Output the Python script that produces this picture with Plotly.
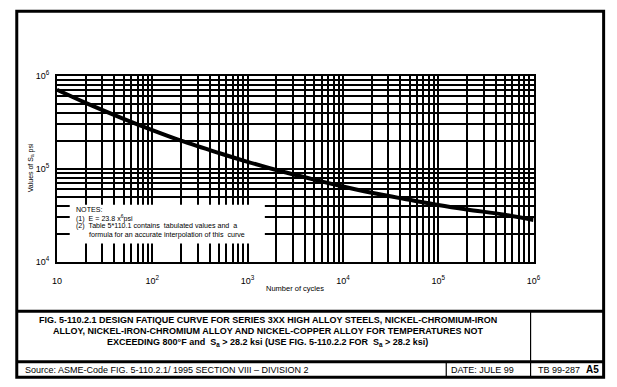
import plotly.graph_objects as go

# ---- data ----
cycles = [10, 20, 50, 100, 200, 500, 1000, 2000, 5000, 10000, 20000,
          50000, 100000, 200000, 500000, 1000000]
stress_psi = [708000, 512000, 345000, 261000, 201000, 148000, 119000, 97000,
              76500, 64600, 55200, 46400, 40900, 36600, 32100, 28200]

x_tickvals = [10, 100, 1000, 10000, 100000, 1000000]
x_ticktext = ["10", "10<sup>2</sup>", "10<sup>3</sup>", "10<sup>4</sup>",
              "10<sup>5</sup>", "10<sup>6</sup>"]
y_tickvals = [10000, 100000, 1000000]
y_ticktext = ["10<sup>4</sup>", "10<sup>5</sup>", "10<sup>6</sup>"]

x_minor = [m * 10 ** e for e in range(1, 6) for m in range(2, 10)]
y_minor = [m * 10 ** e for e in range(4, 6) for m in range(2, 10)]

title_lines = [
    "FIG. 5-110.2.1 DESIGN FATIQUE CURVE FOR SERIES 3XX HIGH ALLOY STEELS, NICKEL-CHROMIUM-IRON",
    "ALLOY, NICKEL-IRON-CHROMIUM ALLOY AND NICKEL-COPPER ALLOY FOR TEMPERATURES NOT",
    "EXCEEDING 800°F and  S<sub>a</sub> > 28.2 ksi (USE FIG. 5-110.2.2 FOR  S<sub>a</sub> > 28.2 ksi)",
]
notes_lines = [
    "NOTES:",
    "(1)&nbsp;&nbsp;E = 23.8 x<sup>6</sup>psi",
    "(2)&nbsp;&nbsp;Table 5*110.1 contains&nbsp; tabulated values and&nbsp; a",
    "formula for an accurate interpolation of this&nbsp; curve",
]
source_text = "Source: ASME-Code FIG. 5-110.2.1/ 1995 SECTION VIII \u2013 DIVISION 2"
date_text = "DATE: JULE 99"
tb_text = "TB 99-287"
sheet_text = "A5"

W, H = 617, 387
FONT = "Liberation Sans, Arial, sans-serif"


def px(x):
    return x / W


def py(y):
    return 1 - y / H


fig = go.Figure()
fig.add_trace(go.Scatter(x=cycles, y=stress_psi, mode="lines",
                         line=dict(color="black", width=4, shape="spline"),
                         hoverinfo="skip", showlegend=False))

grid = dict(showgrid=True, gridcolor="#000000", gridwidth=2)
fig.update_xaxes(type="log", range=[1, 6], domain=[px(53), px(539)],
                 tickvals=x_tickvals, ticktext=x_ticktext, ticks="",
                 ticklabelstandoff=9,
                 tickfont=dict(family=FONT, size=9, color="black"),
                 showline=True, linecolor="#000000", linewidth=2, mirror=True,
                 minor=dict(tickvals=x_minor, ticks="", **grid),
                 zeroline=False, **grid)
fig.update_yaxes(type="log", range=[4, 6], domain=[py(263), py(71)],
                 tickvals=y_tickvals, ticktext=y_ticktext, ticks="",
                 ticklabelstandoff=4,
                 tickfont=dict(family=FONT, size=9, color="black"),
                 showline=True, linecolor="#000000", linewidth=2, mirror=True,
                 minor=dict(tickvals=y_minor, ticks="", **grid),
                 zeroline=False, **grid)

TOP_TB = 314
TOP_FT = 366
shapes = []
# outer frame
shapes.append(dict(type="rect", xref="paper", yref="paper",
                   x0=px(12), x1=px(610.5), y0=py(382), y1=py(4.5),
                   line=dict(color="black", width=3)))
# title block lines
shapes.append(dict(type="line", xref="paper", yref="paper",
                   x0=px(12), x1=px(610.5), y0=py(TOP_TB), y1=py(TOP_TB),
                   line=dict(color="black", width=3)))
shapes.append(dict(type="line", xref="paper", yref="paper",
                   x0=px(12), x1=px(610.5), y0=py(TOP_FT), y1=py(TOP_FT),
                   line=dict(color="black", width=3)))
shapes.append(dict(type="line", xref="paper", yref="paper",
                   x0=px(536), x1=px(536), y0=py(TOP_TB), y1=py(382),
                   line=dict(color="black", width=1.2)))
shapes.append(dict(type="line", xref="paper", yref="paper",
                   x0=px(450), x1=px(450), y0=py(TOP_FT), y1=py(382),
                   line=dict(color="black", width=1.2)))
# notes box
shapes.append(dict(type="rect", xref="paper", yref="paper",
                   x0=px(66), x1=px(265), y0=py(244), y1=py(204),
                   fillcolor="white", line=dict(width=0), layer="above"))

ann = []


def add_text(text, x, y, size, xanchor="left", bold=False, yanchor="middle"):
    ann.append(dict(text=f"<b>{text}</b>" if bold else text,
                    x=px(x), y=py(y), xref="paper", yref="paper",
                    xanchor=xanchor, yanchor=yanchor, showarrow=False,
                    font=dict(family=FONT, size=size, color="black")))


add_text("Number of cycles", 296, 290, 7.5, xanchor="center")
ann.append(dict(text="Values of S<sub>a</sub> psi", x=px(26), y=py(166),
                xref="paper", yref="paper", showarrow=False, textangle=-90,
                xanchor="center", yanchor="middle",
                font=dict(family=FONT, size=7, color="black")))

notes_y = [210, 218.5, 226.5, 235.5]
notes_x = [70, 70, 70, 84]
for t, xx, yy in zip(notes_lines, notes_x, notes_y):
    add_text(t, xx, yy, 7.1)

for t, yy in zip(title_lines, [323, 334, 346]):
    add_text(t, 268, yy, 9, xanchor="center", bold=True)

add_text(source_text, 18, 375, 9)
add_text(date_text, 487, 375, 9, xanchor="center")
add_text(tb_text, 542, 375, 9)
add_text(sheet_text, 599, 374, 10, xanchor="center", bold=True)

fig.update_layout(width=W, height=H, margin=dict(l=0, r=0, t=0, b=0),
                  paper_bgcolor="white", plot_bgcolor="white",
                  shapes=shapes, annotations=ann, showlegend=False)

fig.write_html("out.html", config={"displayModeBar": False},
               post_script="document.body.style.margin='0';"
                           "document.body.style.overflow='hidden';")
